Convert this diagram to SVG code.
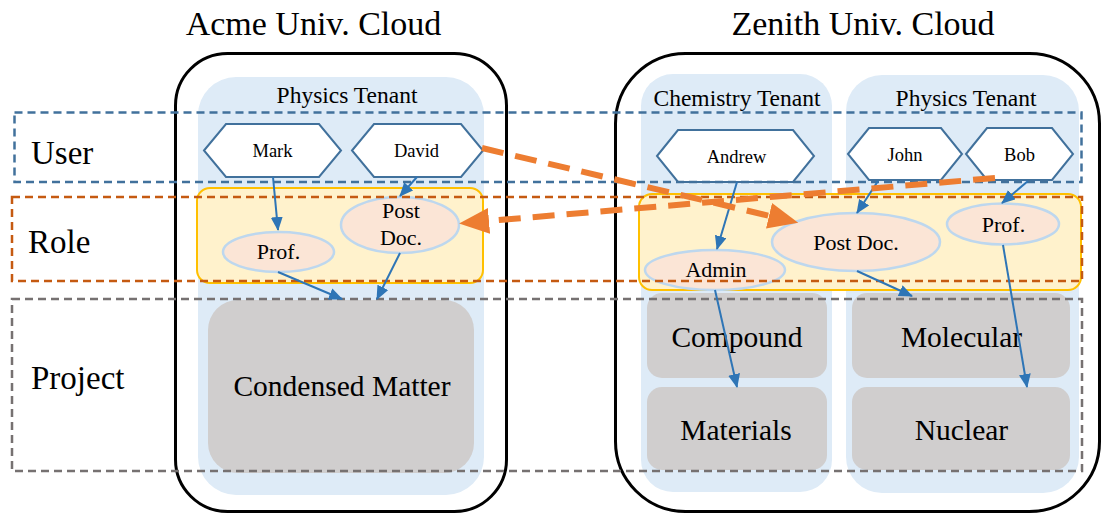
<svg xmlns="http://www.w3.org/2000/svg" width="1102" height="514" viewBox="0 0 1102 514">
  <style>
    text { font-family: "Liberation Serif", "Times New Roman", serif; fill: #000; }
    .title { font-size: 34px; text-anchor: middle; }
    .tenant-label { font-size: 23.5px; text-anchor: middle; }
    .layer-label { font-size: 33px; }
    .cloud { fill: none; stroke: #000; stroke-width: 3; }
    .tenant { fill: #DEEBF7; stroke: none; }
    .rolebox { fill: #FFF2CC; stroke: #FFC000; stroke-width: 2; }
    .user { fill: #fff; stroke: #41719C; stroke-width: 2; }
    .user-text { font-size: 18.5px; text-anchor: middle; }
    .role { fill: #FBE5D6; stroke: #BDD7EE; stroke-width: 2.5; }
    .role-text { font-size: 22px; text-anchor: middle; }
    .project { fill: #D0CECE; stroke: none; }
    .project-text { font-size: 29.5px; text-anchor: middle; }
    .layer { fill: none; stroke-width: 2.5; stroke-dasharray: 8 5; }
    .assign { fill: none; stroke: #2E75B6; stroke-width: 2; marker-end: url(#blue-head); }
    .trust { fill: none; stroke: #ED7D31; stroke-width: 6; stroke-dasharray: 22 12; marker-end: url(#orange-head); }
  </style>
  <defs>
    <marker id="blue-head" markerUnits="userSpaceOnUse" markerWidth="14" markerHeight="12" refX="13" refY="6" orient="auto">
      <path d="M0,0 L14,6 L0,12 z" fill="#2E75B6"/>
    </marker>
    <marker id="orange-head" markerUnits="userSpaceOnUse" markerWidth="31" markerHeight="27" refX="1" refY="13" orient="auto">
      <path d="M0,0 L30,13 L0,26 z" fill="#ED7D31"/>
    </marker>
  </defs>

  <!-- clouds -->
  <g id="acme-cloud">
    <rect class="cloud" x="175.5" y="53.5" width="331" height="458" rx="52" ry="52"/>
    <text class="title" x="313.5" y="35">Acme Univ. Cloud</text>
  </g>
  <g id="zenith-cloud">
    <rect class="cloud" x="615.5" y="53.5" width="484" height="458" rx="70" ry="70"/>
    <text class="title" x="863" y="35">Zenith Univ. Cloud</text>
  </g>

  <!-- tenants -->
  <g id="acme-physics-tenant">
    <rect class="tenant" x="198" y="77" width="286" height="418" rx="38" ry="38"/>
    <text class="tenant-label" x="347" y="103">Physics Tenant</text>
  </g>
  <g id="zenith-chemistry-tenant">
    <rect class="tenant" x="641" y="74" width="191" height="418" rx="32" ry="32"/>
    <text class="tenant-label" x="737" y="106">Chemistry Tenant</text>
  </g>
  <g id="zenith-physics-tenant">
    <rect class="tenant" x="846" y="75" width="233" height="418" rx="36" ry="36"/>
    <text class="tenant-label" x="966" y="106">Physics Tenant</text>
  </g>

  <!-- projects -->
  <g id="condensed-matter">
    <rect class="project" x="208" y="300" width="266" height="173" rx="30" ry="30"/>
    <text class="project-text" x="342" y="396">Condensed Matter</text>
  </g>
  <g id="compound">
    <rect class="project" x="647" y="293" width="180" height="85" rx="15" ry="15"/>
    <text class="project-text" x="737" y="347">Compound</text>
  </g>
  <g id="materials">
    <rect class="project" x="647" y="387" width="180" height="83" rx="15" ry="15"/>
    <text class="project-text" x="736" y="440">Materials</text>
  </g>
  <g id="molecular">
    <rect class="project" x="852" y="293" width="218" height="85" rx="15" ry="15"/>
    <text class="project-text" x="961.5" y="347">Molecular</text>
  </g>
  <g id="nuclear">
    <rect class="project" x="852" y="387" width="218" height="83" rx="15" ry="15"/>
    <text class="project-text" x="961.5" y="440">Nuclear</text>
  </g>

  <!-- role areas -->
  <g id="acme-roles">
    <rect class="rolebox" x="197" y="188" width="286" height="95" rx="13" ry="13"/>
  </g>
  <g id="zenith-roles">
    <rect class="rolebox" x="639" y="194" width="442" height="96" rx="13" ry="13"/>
  </g>

  <!-- roles -->
  <g id="acme-prof">
    <ellipse class="role" cx="278.5" cy="252" rx="55.5" ry="20"/>
    <text class="role-text" x="278.5" y="259">Prof.</text>
  </g>
  <g id="acme-postdoc">
    <ellipse class="role" cx="400" cy="225" rx="59" ry="28"/>
    <text class="role-text" x="401" y="218">Post</text>
    <text class="role-text" x="401" y="245">Doc.</text>
  </g>
  <g id="zenith-admin">
    <ellipse class="role" cx="715" cy="270" rx="70" ry="20"/>
    <text class="role-text" x="716" y="277">Admin</text>
  </g>
  <g id="zenith-postdoc">
    <ellipse class="role" cx="856" cy="242" rx="84" ry="29"/>
    <text class="role-text" x="856" y="250">Post Doc.</text>
  </g>
  <g id="zenith-prof">
    <ellipse class="role" cx="1003" cy="224" rx="56" ry="20.5"/>
    <text class="role-text" x="1003.5" y="232">Prof.</text>
  </g>

  <!-- users -->
  <g id="mark">
    <polygon class="user" points="204,150.5 226,124 319,124 341,150.5 319,177 226,177"/>
    <text class="user-text" x="272.5" y="157">Mark</text>
  </g>
  <g id="david">
    <polygon class="user" points="352,150.5 374,124 461,124 483,150.5 461,177 374,177"/>
    <text class="user-text" x="416.5" y="157">David</text>
  </g>
  <g id="andrew">
    <polygon class="user" points="657,156 678,130 793,130 814,156 793,182 678,182"/>
    <text class="user-text" x="736.5" y="163">Andrew</text>
  </g>
  <g id="john">
    <polygon class="user" points="848,154 869,128 941,128 962,154 941,180 869,180"/>
    <text class="user-text" x="905" y="161">John</text>
  </g>
  <g id="bob">
    <polygon class="user" points="966,154 987,128 1052,128 1073,154 1052,180 987,180"/>
    <text class="user-text" x="1019.5" y="161">Bob</text>
  </g>

  <!-- layer bands -->
  <g id="layers">
    <rect class="layer" x="14.5" y="112.5" width="1067" height="69.5" stroke="#41719C"/>
    <text class="layer-label" x="31" y="164">User</text>
    <rect class="layer" x="12" y="197" width="1070" height="84" stroke="#C55A11"/>
    <text class="layer-label" x="28" y="253">Role</text>
    <rect class="layer" x="12" y="299" width="1070" height="172" stroke="#767171"/>
    <text class="layer-label" x="31" y="389">Project</text>
  </g>

  <!-- connectors -->
  <g id="connectors">
    <line class="assign" x1="273" y1="177" x2="278" y2="230"/>
    <line class="assign" x1="417" y1="177" x2="400" y2="196"/>
    <line class="assign" x1="278" y1="272" x2="342" y2="299"/>
    <line class="assign" x1="400" y1="253" x2="377" y2="299"/>
    <line class="assign" x1="737" y1="182" x2="717" y2="249"/>
    <line class="assign" x1="715" y1="290" x2="737" y2="387"/>
    <line class="assign" x1="878" y1="181" x2="857" y2="213"/>
    <line class="assign" x1="1028" y1="181" x2="1002" y2="203"/>
    <line class="assign" x1="857" y1="271" x2="912" y2="296"/>
    <line class="assign" x1="1003" y1="245" x2="1027" y2="387"/>
    <line class="trust" x1="482" y1="148" x2="770" y2="216"/>
    <line class="trust" x1="995" y1="178" x2="488" y2="221"/>
  </g>
</svg>
